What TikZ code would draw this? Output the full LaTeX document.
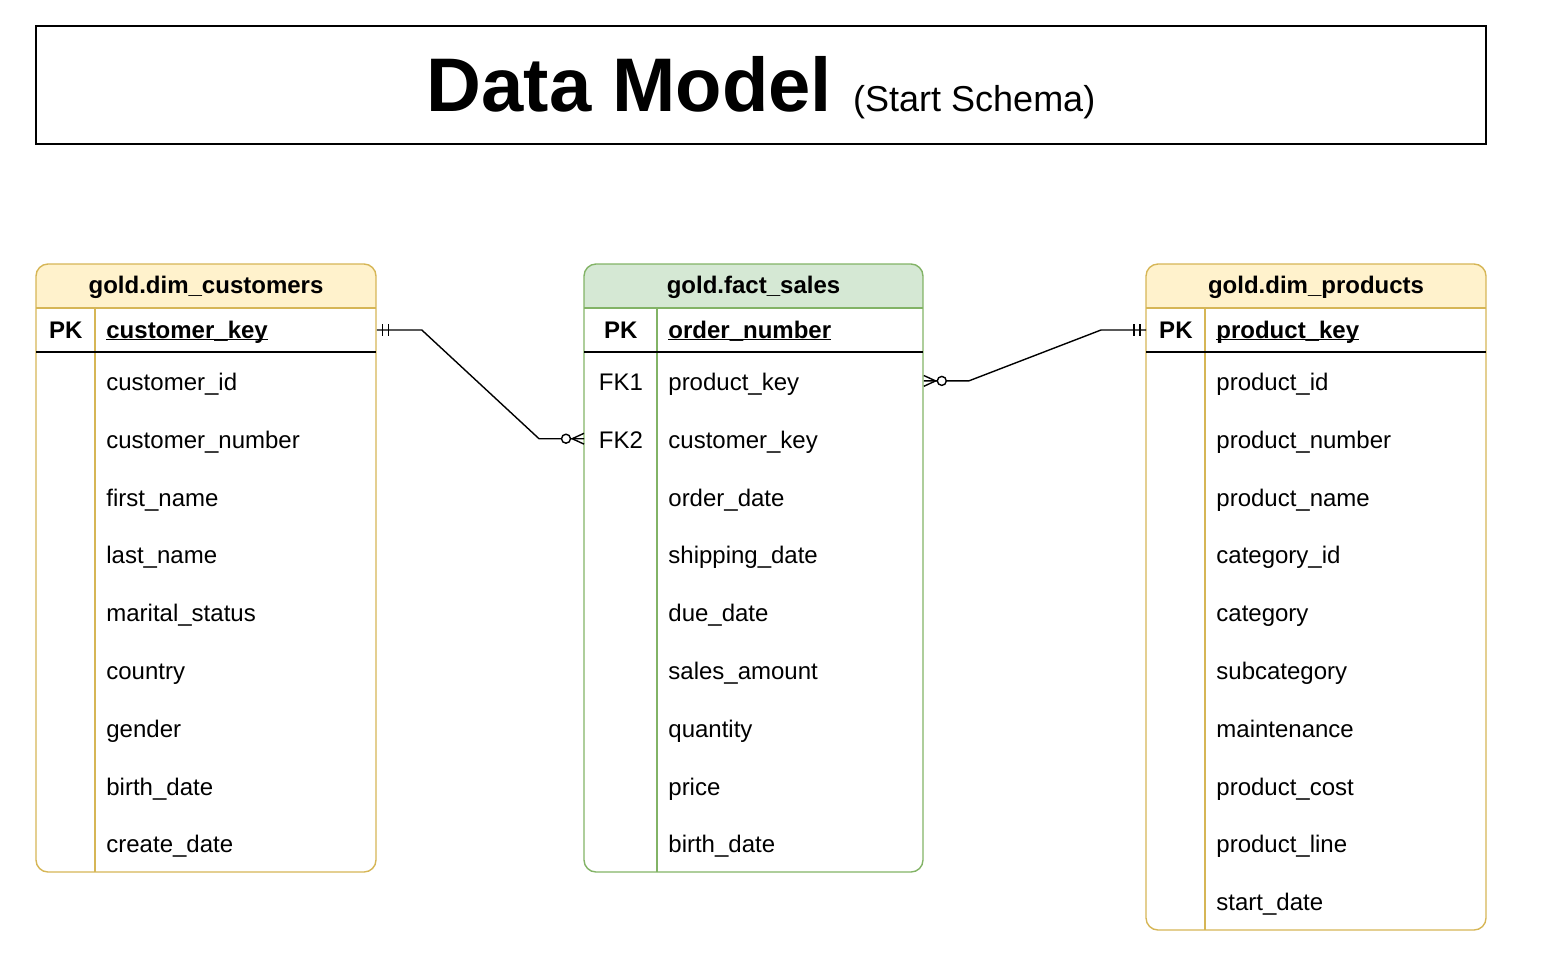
\documentclass[tikz,border=0pt]{standalone}
\usepackage{fontspec}
\setmainfont{Liberation Sans}
\definecolor{dimfill}{HTML}{FFF2CC}
\definecolor{dimline}{HTML}{D6B656}
\definecolor{factfill}{HTML}{D5E8D4}
\definecolor{factline}{HTML}{82B366}
\newcommand\keyul[1]{\setbox0\hbox{#1}\rlap{\rule[-1pt]{\wd0}{0.55pt}}\box0}
\tikzset{
  hdr/.style={font=\fontsize{12}{14}\selectfont\bfseries, inner sep=0pt, text height=9pt, text depth=2pt},
  ercell/.style={anchor=west, inner ysep=0pt, font=\fontsize{12}{14}\selectfont},
  pkrow/.style={ercell, minimum height=22pt, text height=10pt, text depth=2pt},
  fieldrow/.style={ercell, minimum height=28.9pt, text height=11pt, text depth=1.5pt},
  keycell/.style={minimum width=#1, inner xsep=0pt},
  namecell/.style={text width=#1, inner xsep=5.5pt, align=left},
  frame/.style={line width=0.7pt},
  rel/.style={line width=0.7pt},
}
\begin{document}
\begin{tikzpicture}[x=0.5pt,y=-0.5pt]
\useasboundingbox (0,0) rectangle (1546,970);
\draw[frame] (36,26) rectangle (1486,144);
\node[anchor=base, inner sep=0pt] (title) at (761,111) {\fontsize{38}{44}\selectfont\bfseries Data Model {\fontsize{18}{22}\selectfont\mdseries (Start Schema)}};

\begin{scope}
\clip[rounded corners=6pt] (36,264) rectangle (376,872);
\fill[dimfill] (36,264) rectangle (376,308);
\end{scope}
\draw[frame, dimline, rounded corners=6pt] (36,264) rectangle (376,872);
\draw[frame, dimline] (36,308) -- (376,308) (95,308) -- (95,872);
\draw[frame] (36,352) -- (376,352);
\node[hdr] (cust) at (206,286) {gold.dim\_customers};
\node[pkrow, keycell=29.5pt] (cust-pkk) at (36,330) {\textbf{PK}};
\node[pkrow, namecell=129.5pt] (cust-pk) at (95,330) {\textbf{\keyul{customer\_key}}};
\foreach \f [count=\i] in {customer\_id,customer\_number,first\_name,last\_name,marital\_status,country,gender,birth\_date,create\_date}
  \node[fieldrow, namecell=129.5pt] (cust-\i) at (95,{352+(\i-0.5)*57.8}) {\f};

\begin{scope}
\clip[rounded corners=6pt] (584,264) rectangle (923,872);
\fill[factfill] (584,264) rectangle (923,308);
\end{scope}
\draw[frame, factline, rounded corners=6pt] (584,264) rectangle (923,872);
\draw[frame, factline] (584,308) -- (923,308) (657,308) -- (657,872);
\draw[frame] (584,352) -- (923,352);
\node[hdr] (fact) at (753.5,286) {gold.fact\_sales};
\node[pkrow, keycell=36.5pt] (fact-pkk) at (584,330) {\textbf{PK}};
\node[pkrow, namecell=122pt] (fact-pk) at (657,330) {\textbf{\keyul{order\_number}}};
\node[fieldrow, keycell=36.5pt] (fact-fk1k) at (584,{352+0.5*57.8}) {FK1};
\node[fieldrow, keycell=36.5pt] (fact-fk2k) at (584,{352+1.5*57.8}) {FK2};
\foreach \f [count=\i] in {product\_key,customer\_key,order\_date,shipping\_date,due\_date,sales\_amount,quantity,price,birth\_date}
  \node[fieldrow, namecell=122pt] (fact-\i) at (657,{352+(\i-0.5)*57.8}) {\f};

\begin{scope}
\clip[rounded corners=6pt] (1146,264) rectangle (1486,930);
\fill[dimfill] (1146,264) rectangle (1486,308);
\end{scope}
\draw[frame, dimline, rounded corners=6pt] (1146,264) rectangle (1486,930);
\draw[frame, dimline] (1146,308) -- (1486,308) (1205,308) -- (1205,930);
\draw[frame] (1146,352) -- (1486,352);
\node[hdr] (prod) at (1316,286) {gold.dim\_products};
\node[pkrow, keycell=29.5pt] (prod-pkk) at (1146,330) {\textbf{PK}};
\node[pkrow, namecell=129.5pt] (prod-pk) at (1205,330) {\textbf{\keyul{product\_key}}};
\foreach \f [count=\i] in {product\_id,product\_number,product\_name,category\_id,category,subcategory,maintenance,product\_cost,product\_line,start\_date}
  \node[fieldrow, namecell=129.5pt] (prod-\i) at (1205,{352+(\i-0.5)*57.8}) {\f};

\draw[rel] (cust-pk.east) -- ++(45,0) -- ([xshift=-22.5pt]fact-fk2k.west) -- (fact-fk2k.west);
\draw[rel] ([xshift=2.9pt,yshift=3pt]cust-pk.east) -- ++(0,-6pt);
\draw[rel] ([xshift=5.9pt,yshift=3pt]cust-pk.east) -- ++(0,-6pt);
\draw[rel] ([yshift=2.7pt]fact-fk2k.west) -- ([xshift=-5.9pt]fact-fk2k.west) -- ([yshift=-2.7pt]fact-fk2k.west);
\draw[rel, fill=white] ([xshift=-9pt]fact-fk2k.west) circle[radius=2.25pt];

\draw[rel] (fact-1.east) -- ++(45,0) -- ([xshift=-22.5pt]prod-pkk.west) -- (prod-pkk.west);
\draw[rel] ([xshift=-3pt,yshift=3pt]prod-pkk.west) -- ++(0,-6pt);
\draw[rel] ([xshift=-6pt,yshift=3pt]prod-pkk.west) -- ++(0,-6pt);
\draw[rel] ([yshift=2.7pt]fact-1.east) -- ([xshift=5.9pt]fact-1.east) -- ([yshift=-2.7pt]fact-1.east);
\draw[rel, fill=white] ([xshift=9pt]fact-1.east) circle[radius=2.25pt];
\end{tikzpicture}
\end{document}
